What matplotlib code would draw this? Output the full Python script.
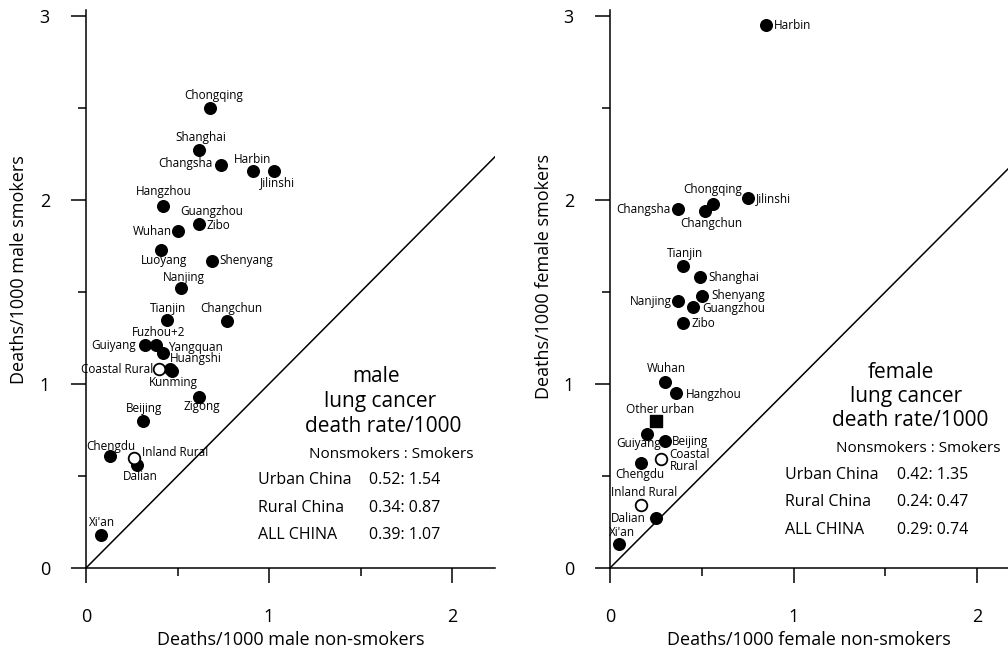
import matplotlib.pyplot as plt
from matplotlib.ticker import MultipleLocator

plt.rcParams['font.family'] = ['Open Sans', 'DejaVu Sans']

# male: deaths/1000 non-smokers (x) vs smokers (y)
male_names = ['Chongqing', 'Shanghai', 'Changsha', 'Harbin', 'Jilinshi', 'Hangzhou',
              'Guangzhou', 'Wuhan', 'Luoyang', 'Shenyang', 'Nanjing', 'Tianjin',
              'Changchun', 'Guiyang', 'Fuzhou+2', 'Yangquan', 'Huangshi', 'Kunming',
              'Zigong', 'Beijing', 'Chengdu', 'Dalian', "Xi'an"]
male_x = [0.68, 0.62, 0.74, 0.91, 1.03, 0.42, 0.62, 0.50, 0.41, 0.69, 0.52, 0.44,
          0.77, 0.32, 0.38, 0.42, 0.46, 0.47, 0.62, 0.31, 0.13, 0.28, 0.08]
male_y = [2.50, 2.27, 2.19, 2.16, 2.16, 1.97, 1.87, 1.83, 1.73, 1.67, 1.52, 1.35,
          1.34, 1.21, 1.21, 1.17, 1.08, 1.07, 0.93, 0.80, 0.61, 0.56, 0.18]
male_rural_names = ['Coastal Rural', 'Inland Rural']
male_rural_x = [0.40, 0.26]
male_rural_y = [1.08, 0.60]

female_names = ['Harbin', 'Chongqing', 'Changchun', 'Jilinshi', 'Changsha', 'Tianjin',
                'Shanghai', 'Shenyang', 'Nanjing', 'Guangzhou', 'Zibo', 'Wuhan',
                'Hangzhou', 'Guiyang', 'Beijing', 'Chengdu', 'Dalian', "Xi'an"]
female_x = [0.85, 0.56, 0.52, 0.75, 0.37, 0.40, 0.49, 0.50, 0.37, 0.45, 0.40, 0.30,
            0.36, 0.20, 0.30, 0.17, 0.25, 0.05]
female_y = [2.95, 1.98, 1.94, 2.01, 1.95, 1.64, 1.58, 1.48, 1.45, 1.42, 1.33, 1.01,
            0.95, 0.73, 0.69, 0.57, 0.27, 0.13]
female_rural_names = ['Coastal\nRural', 'Inland Rural']
female_rural_x = [0.28, 0.17]
female_rural_y = [0.59, 0.34]
female_other_x = [0.25]
female_other_y = [0.80]

# summary tables: region, nonsmokers, smokers
regions = ['Urban China', 'Rural China', 'ALL CHINA']
male_rates = [('0.52', '1.54'), ('0.34', '0.87'), ('0.39', '1.07')]
female_rates = [('0.42', '1.35'), ('0.24', '0.47'), ('0.29', '0.74')]

# label placement: name -> (dx pt, dy pt, ha)
male_lab = {
    'Chongqing': (2, 9, 'center'), 'Shanghai': (1, 9, 'center'),
    'Changsha': (-6, 1, 'right'), 'Harbin': (0, 8, 'center'),
    'Jilinshi': (2, -9, 'center'), 'Hangzhou': (1, 10, 'center'),
    'Guangzhou': (9, 9, 'center'), 'Wuhan': (-4, 0, 'right'),
    'Luoyang': (2, -8, 'center'), 'Shenyang': (5, 0, 'left'),
    'Nanjing': (2, 8, 'center'), 'Tianjin': (1, 8, 'center'),
    'Changchun': (3, 9, 'center'), 'Guiyang': (-6, 0, 'right'),
    'Fuzhou+2': (2, 9, 'center'), 'Yangquan': (4, 4, 'left'),
    'Huangshi': (0, 8, 'left'), 'Kunming': (1, -8, 'center'),
    'Zigong': (2, -7, 'center'), 'Beijing': (1, 9, 'center'),
    'Chengdu': (1, 7, 'center'), 'Dalian': (2, -8, 'center'),
    "Xi'an": (1, 9, 'center'),
    'Coastal Rural': (-4, 0, 'right'), 'Inland Rural': (6, 4, 'left'),
}
female_lab = {
    'Harbin': (6, 0, 'left'), 'Chongqing': (0, 10, 'center'),
    'Changchun': (4, -9, 'center'), 'Jilinshi': (6, 0, 'left'),
    'Changsha': (-5, 0, 'right'), 'Tianjin': (1, 9, 'center'),
    'Shanghai': (6, 0, 'left'), 'Shenyang': (7, 0, 'left'),
    'Nanjing': (-4, 0, 'right'), 'Guangzhou': (7, -1, 'left'),
    'Zibo': (6, 0, 'left'), 'Wuhan': (1, 10, 'center'),
    'Hangzhou': (7, -1, 'left'), 'Guiyang': (-6, -7, 'center'),
    'Beijing': (5, 0, 'left'), 'Chengdu': (-1, -8, 'center'),
    'Dalian': (-7, 0, 'right'), "Xi'an": (2, 8, 'center'),
    'Coastal\nRural': (6, -1, 'left'), 'Inland Rural': (2, 9, 'center'),
}

W, H = 1008, 650
fig = plt.figure(figsize=(W / 100, H / 100), dpi=100)


def px_axes(x0, x1, y0, y1):
    return fig.add_axes([x0 / W, 1 - y0 / H, (x1 - x0) / W, (y0 - y1) / H])


def style(ax, xmax, ymax, xlabel, ylabel, ylab_xy):
    ax.set_xlim(0, xmax)
    ax.set_ylim(0, ymax)
    for s in ['top', 'right']:
        ax.spines[s].set_visible(False)
    for s in ['left', 'bottom']:
        ax.spines[s].set_linewidth(1.1)
    ax.xaxis.set_major_locator(MultipleLocator(1))
    ax.yaxis.set_major_locator(MultipleLocator(1))
    ax.xaxis.set_minor_locator(MultipleLocator(0.5))
    ax.yaxis.set_minor_locator(MultipleLocator(0.5))
    ax.tick_params(which='major', direction='out', length=11, width=1.1,
                   labelsize=13)
    ax.tick_params(which='minor', direction='out', length=5.5, width=1.1)
    ax.tick_params(axis='y', which='major', pad=15)
    ax.tick_params(axis='x', which='major', pad=18)
    ax.plot([0, xmax], [0, xmax], color='black', lw=1.1, clip_on=True)
    ax.set_xlabel(xlabel, fontsize=13)
    ax.set_ylabel(ylabel, fontsize=13)
    ax.xaxis.set_label_coords(0.5, -0.113)
    ax.yaxis.set_label_coords(*ylab_xy)


def label(ax, names, xs, ys, place):
    for n, x, y in zip(names, xs, ys):
        dx, dy, ha = place[n]
        ax.annotate(n, (x, y), xytext=(dx, dy), textcoords='offset points',
                    ha=ha, va='center', fontsize=8.5, linespacing=0.9)


def table(title, x_head, x_left, x_val, ytop, rates):
    for i, t in enumerate(title):
        fig.text(x_head[i] / W, 1 - (ytop + 24.5 * i) / H, t, ha='center',
                 va='center', fontsize=15)
    fig.text(x_head[3] / W, 1 - (ytop + 77) / H, 'Nonsmokers : Smokers',
             ha='center', va='center', fontsize=11)
    for i, (r, (a, b)) in enumerate(zip(regions, rates)):
        yy = 1 - (ytop + 103 + 27.5 * i) / H
        fig.text(x_left / W, yy, r, ha='left', va='center', fontsize=11.5)
        fig.text(x_val / W, yy, f'{a}: {b}', ha='left', va='center', fontsize=11.5)


# left: male
ax1 = px_axes(86, 495, 568, 10)
style(ax1, 409 / 183, 558 / 184, 'Deaths/1000 male non-smokers',
      'Deaths/1000 male smokers', (-0.142, 0.534))
ax1.scatter(male_x, male_y, s=70, color='black', zorder=3)
ax1.scatter(male_rural_x, male_rural_y, s=70, facecolor='white',
            edgecolor='black', linewidth=1.3, zorder=4)
label(ax1, male_names, male_x, male_y, male_lab)
label(ax1, male_rural_names, male_rural_x, male_rural_y, male_lab)
ax1.annotate('Zibo', (0.62, 1.87), xytext=(5, -1), textcoords='offset points',
             ha='left', va='center', fontsize=8.5)
table(['male', 'lung cancer', 'death rate/1000'], [376, 380, 383, 391],
      258, 369, 377, male_rates)

# right: female
ax2 = px_axes(610, 1008, 568, 10)
style(ax2, 398 / 183.5, 558 / 184, 'Deaths/1000 female non-smokers',
      'Deaths/1000 female smokers', (-0.143, 0.523))
ax2.scatter(female_x, female_y, s=70, color='black', zorder=3)
ax2.scatter(female_rural_x, female_rural_y, s=70, facecolor='white',
            edgecolor='black', linewidth=1.3, zorder=4)
ax2.scatter(female_other_x, female_other_y, s=70, marker='s', color='black', zorder=3)
label(ax2, female_names, female_x, female_y, female_lab)
label(ax2, female_rural_names, female_rural_x, female_rural_y, female_lab)
ax2.annotate('Other urban', (female_other_x[0], female_other_y[0]), xytext=(3, 8),
             textcoords='offset points', ha='center', va='center', fontsize=8.5)
table(['female', 'lung cancer', 'death rate/1000'], [901, 906, 910, 918],
      785, 897, 372, female_rates)

fig.savefig('out.png', dpi=100)
